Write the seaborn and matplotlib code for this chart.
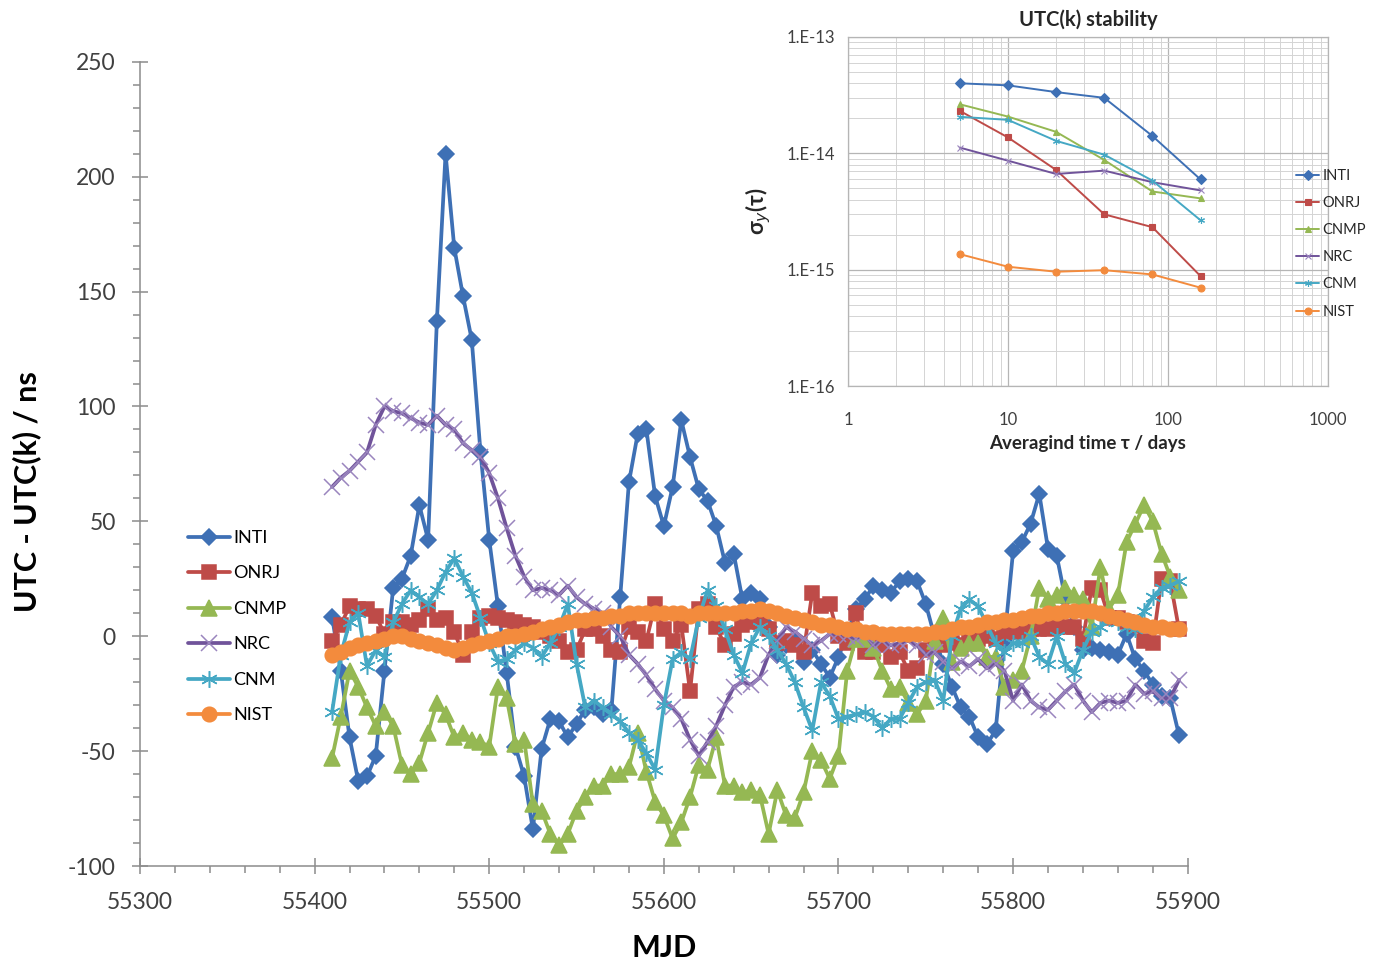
import numpy as np
import matplotlib
matplotlib.use('Agg')
import matplotlib.pyplot as plt
import seaborn as sns
from matplotlib.ticker import MultipleLocator, FuncFormatter, FixedLocator, NullFormatter

# --- main chart: UTC - UTC(k), one point every 5 days ---
mjd = np.arange(55410, 55896, 5)

inti = [8.5, -15, -44, -63, -61, -52, -15, 21, 25, 35,
        57, 42, 137, 210, 169, 148, 129, 80, 42, 13,
        -16, -48, -61, -84, -49, -36, -37, -44, -38, -32,
        -31, -34, -32, 17, 67, 88, 90, 61, 48, 65,
        94, 78, 64, 59, 48, 32, 36, 16, 19, 16,
        4, -8, -4, -2, -11, -6, -12, -18, -9, 1,
        12, 16, 22, 20, 19, 24, 25, 24, 14, 0,
        -12, -22, -31, -35, -44, -47, -41, -2, 37, 41,
        49, 62, 38, 35, 16, 4, -6, -5, -6, -7,
        -8, 1, -10, -15, -21, -26, -27, -43]

onrj = [-2, 5, 13, 12, 12, 9, 1, 6, 6, 5,
        7, 12, 7, 8, 2, -8, 2, 8, 9, 8,
        7, 6, 5, 4, 2, 0, -2, -7, -6, 3,
        3, 0, -6, -7, 4, 2, -2, 14, 3, -2,
        5, -24, 12, 14, 4, -4, 1, 5, 6, 6,
        3, -3, -2, -4, -7, 19, 13, 14, 0, -3,
        10, -7, -7, -4, -9, -7, -15, -14, -6, -3,
        -4, -3, -4, -2, -1, 0, -1, 2, 2, 2,
        3, 3, 3, 4, 4, 4, -1, 21, 20, 8,
        8, 6, 5, -2, -3, 25, 24, 3]

cnmp = [-53, -35, -15, -22, -31, -39, -33, -39, -56, -60,
        -55, -42, -29, -34, -44, -42, -45, -46, -48, -22,
        -27, -47, -45, -73, -76, -86, -91, -86, -76, -70,
        -65, -65, -60, -60, -57, -42, -59, -72, -78, -88,
        -81, -70, -56, -58, -44, -65, -65, -68, -67, -69,
        -86, -67, -78, -79, -68, -50, -54, -62, -52, -15,
        -1, -1, -5, -15, -23, -22, -29, -34, -28, -2,
        8, -11, -5, -3, -3, -9, -9, -22, -19, -15,
        0, 21, 16, 18, 21, 18, 16, 4, 30, 12,
        18, 41, 49, 57, 50, 36, 26, 20]

nrc = [65, 69, 72, 76, 80, 92, 100, 98, 97, 95,
       93, 92, 96, 92, 90, 84, 81, 78, 71, 60,
       47, 35, 26, 20, 21, 20, 18, 22, 17, 14,
       12, 10, 4, 0, -8, -12, -17, -23, -28, -31,
       -36, -45, -52, -46, -39, -30, -22, -20, -21, -18,
       -8, -2, 4, 2, -1, -4, -2, 1, 1, 0,
       -1, 1, -4, -2, -4, -3, -2, -4, -8, -7,
       -11, -14, -11, -13, -10, -14, -12, -15, -28, -21,
       -28, -31, -32, -28, -24, -21, -28, -33, -29, -28,
       -29, -28, -21, -25, -24, -27, -27, -19]

cnm = [-33, -8, 6, 10, -13, -6, -9, 6, 14, 20,
       17, 14, 20, 28, 34, 26, 19, 8, -3, -11,
       -10, -6, -3, -5, -9, -3, 4, 14, -12, -31,
       -28, -31, -34, -37, -42, -45, -51, -58, -30, -10,
       -7, -10, 8, 20, 13, 3, -8, -16, -3, 4,
       0, -6, -12, -20, -31, -41, -20, -26, -36, -35,
       -34, -33, -35, -40, -36, -36, -29, -22, -20, -19,
       -28, 0, 12, 16, 13, 5, -3, -7, -3, -3,
       0, -9, -12, 0, -12, -16, -6, 2, 4, 8,
       6, 4, 3, 11, 17, 21, 22, 24]

nist = [-8, -7, -5, -4, -3, -2, -1, 0, 0, -1,
        -2, -3, -4, -5, -6, -5, -4, -3, -2, -1,
        0, 0, 1, 2, 3, 4, 5, 6, 7, 7,
        8, 8, 9, 9, 10, 10, 10, 10, 10, 10,
        10, 9, 10, 10, 10, 10, 10, 11, 11, 12,
        11, 10, 9, 8, 7, 6, 5, 5, 4, 3,
        3, 2, 2, 1, 1, 1, 1, 1, 1, 2,
        2, 3, 4, 4, 5, 6, 6, 7, 7, 8,
        9, 9, 10, 10, 11, 11, 11, 11, 10, 9,
        8, 7, 6, 5, 4, 4, 3, 3]

# --- inset: Allan deviation vs averaging time ---
tau = [5, 10, 20, 40, 80, 160]
adev_inti = [4.0e-14, 3.84e-14, 3.36e-14, 3.0e-14, 1.41e-14, 5.96e-15]
adev_onrj = [2.32e-14, 1.37e-14, 7.2e-15, 2.99e-15, 2.32e-15, 8.8e-16]
adev_cnmp = [2.64e-14, 2.07e-14, 1.53e-14, 8.77e-15, 4.7e-15, 4.1e-15]
adev_nrc = [1.12e-14, 8.65e-15, 6.65e-15, 7.1e-15, 5.65e-15, 4.8e-15]
adev_cnm = [2.06e-14, 1.94e-14, 1.28e-14, 9.74e-15, 5.83e-15, 2.66e-15]
adev_nist = [1.36e-15, 1.06e-15, 9.6e-16, 9.9e-16, 9.1e-16, 7.0e-16]
inset_xticks = [1, 10, 100, 1000]
inset_yticks = [1e-16, 1e-15, 1e-14, 1e-13]

names = ['INTI', 'ONRJ', 'CNMP', 'NRC', 'CNM', 'NIST']
main_series = [inti, onrj, cnmp, nrc, cnm, nist]
inset_series = [adev_inti, adev_onrj, adev_cnmp, adev_nrc, adev_cnm, adev_nist]
for s in main_series:
    assert len(s) == len(mjd)

colors = ['#3E70B5', '#BE4B48', '#95B853', '#70539A', '#45A8C4', '#F38B3D']
markers = ['D', 's', '^', 'x', (6, 2, 0), 'o']
msizes = [8, 10, 11, 11, 12, 10.5]
edgecols = ['#3E70B5', '#BE4B48', '#95B853', '#9A85BE', '#45A8C4', '#F38B3D']

sns.set_style('white')
plt.rcParams['font.family'] = ['Lato', 'DejaVu Sans']
plt.rcParams['axes.unicode_minus'] = False
text_col = '#404040'
axis_col = '#8c8c8c'

fig = plt.figure(figsize=(13.75, 9.66), dpi=100)
ax = fig.add_axes([0.1018, 0.1035, 0.762, 0.8325])

for name, vals, c, m, ms, ec in zip(names, main_series, colors, markers, msizes, edgecols):
    sns.lineplot(x=mjd, y=vals, ax=ax, color=c, marker=m, markersize=ms,
                 markeredgecolor=ec, markeredgewidth=1.1, linewidth=2.7,
                 label=name)

ax.set_xlim(55300, 55900)
ax.set_ylim(-100, 250)
ax.xaxis.set_major_locator(MultipleLocator(100))
ax.xaxis.set_minor_locator(MultipleLocator(20))
ax.yaxis.set_major_locator(MultipleLocator(50))
ax.yaxis.set_minor_locator(MultipleLocator(10))
for side in ['top', 'right']:
    ax.spines[side].set_visible(False)
for side in ['left', 'bottom']:
    ax.spines[side].set_color(axis_col)
    ax.spines[side].set_linewidth(1.1)
ax.tick_params(which='both', bottom=True, left=True)
ax.tick_params(which='major', direction='inout', length=11, width=1.1,
               color=axis_col, labelsize=16.5, labelcolor=text_col)
ax.tick_params(which='minor', direction='out', length=5, width=1.1, color=axis_col)
ax.tick_params(axis='y', which='major', pad=12)
ax.tick_params(axis='x', which='major', pad=13)

ax.set_xlabel('MJD', fontsize=22, fontweight='bold', color='black')
ax.set_ylabel('UTC - UTC(k) / ns', fontsize=22, fontweight='bold', color='black')
ax.xaxis.set_label_coords(0.5, -0.085)
ax.yaxis.set_label_coords(-0.094, 0.466)

ax.legend(loc='upper left', bbox_to_anchor=(0.046, 0.418), frameon=False,
          fontsize=13, handlelength=2.3, labelspacing=1.08, handletextpad=0.2,
          borderpad=0, borderaxespad=0, labelcolor='black')

# --- inset ---
ax2 = fig.add_axes([0.6167, 0.6004, 0.349, 0.3613])
ax2.set_facecolor('white')
ax2.set_xscale('log')
ax2.set_yscale('log')
for name, vals, c, m, ec in zip(names, inset_series, colors, markers, edgecols):
    sns.lineplot(x=tau, y=vals, ax=ax2, color=c, marker=m, markersize=5,
                 markeredgecolor=ec, markeredgewidth=0.8, linewidth=1.4,
                 label=name)
ax2.set_xlim(1, 1000)
ax2.set_ylim(1e-16, 1e-13)
minor_x = [k * d for d in inset_xticks[:-1] for k in range(2, 10)]
minor_y = [k * d for d in inset_yticks[:-1] for k in range(2, 10)]
ax2.xaxis.set_major_locator(FixedLocator(inset_xticks))
ax2.xaxis.set_minor_locator(FixedLocator(minor_x))
ax2.yaxis.set_major_locator(FixedLocator(inset_yticks))
ax2.yaxis.set_minor_locator(FixedLocator(minor_y))
ax2.xaxis.set_minor_formatter(NullFormatter())
ax2.yaxis.set_minor_formatter(NullFormatter())
ax2.xaxis.set_major_formatter(FuncFormatter(lambda v, p: '%g' % v))
ax2.yaxis.set_major_formatter(FuncFormatter(lambda v, p: '1.E%d' % round(np.log10(v))))
ax2.grid(which='major', color='#b5b5b5', linewidth=0.9)
ax2.grid(which='minor', color='#d4d4d4', linewidth=0.7)
ax2.set_axisbelow(True)
for side in ax2.spines:
    ax2.spines[side].set_color('#b5b5b5')
    ax2.spines[side].set_linewidth(0.9)
ax2.tick_params(which='both', length=0, labelsize=12, labelcolor=text_col)
ax2.tick_params(axis='y', pad=9)
ax2.tick_params(axis='x', pad=19)
ax2.set_title('UTC(k) stability', fontsize=14.5, fontweight='bold', pad=8)
ax2.set_xlabel('Averagind time τ / days', fontsize=13.5, fontweight='bold', labelpad=5)
ax2.set_ylabel('σ$_y$(τ)', fontsize=16, fontweight='bold', labelpad=10)

handles, labels = ax2.get_legend_handles_labels()
ax2.legend_.remove()
fig.legend(handles, labels, loc='upper left', bbox_to_anchor=(1296 / 1375, 1 - 169 / 966),
           frameon=False, fontsize=10.5, handlelength=1.6, labelspacing=0.9,
           handletextpad=0.2, borderpad=0, borderaxespad=0)

fig.savefig('out.png', dpi=100)
